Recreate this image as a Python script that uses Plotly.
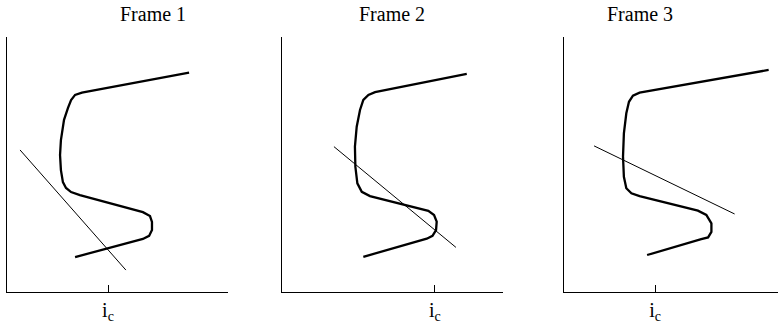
import plotly.graph_objects as go

# coordinates: each frame uses a 0-100 scale on both axes
titles = ["Frame 1", "Frame 2", "Frame 3"]
ic_pos = [45.7, 69.2, 41.2]

curve1_x = [82.4, 33.9, 30.8, 29.0, 27.6, 25.8, 24.4, 24.0, 24.4, 25.3, 26.7, 29.0, 33.0, 61.5, 64.7, 65.6, 65.6, 64.3, 61.5, 30.8]
curve1_y = [86.0, 78.2, 77.3, 75.3, 72.2, 67.5, 59.6, 53.7, 47.8, 43.1, 40.8, 39.2, 38.0, 31.3, 29.8, 27.5, 24.3, 22.0, 20.8, 13.7]
line1_x = [5.9, 53.8]
line1_y = [55.7, 8.6]

curve2_x = [83.6, 42.1, 39.1, 36.8, 35.3, 33.8, 33.0, 33.2, 34.1, 36.1, 39.8, 66.2, 68.8, 70.0, 69.7, 68.1, 65.5, 36.8]
curve2_y = [85.5, 78.4, 77.3, 75.3, 71.4, 64.8, 57.0, 49.1, 42.6, 39.3, 37.6, 31.8, 30.2, 27.6, 24.3, 22.0, 20.9, 13.8]
line2_x = [23.5, 78.7]
line2_y = [57.0, 17.5]

curve3_x = [92.6, 34.2, 31.2, 29.4, 28.2, 27.1, 26.7, 27.1, 28.2, 30.5, 34.2, 60.6, 64.4, 66.7, 66.7, 65.2, 62.1, 37.6]
curve3_y = [87.1, 78.2, 77.0, 74.6, 70.1, 62.2, 53.1, 45.2, 40.7, 38.7, 37.6, 31.9, 30.2, 26.9, 23.6, 21.4, 20.7, 14.5]
line3_x = [13.6, 77.2]
line3_y = [57.3, 30.6]

W, H = 778, 325
frames = [
    (curve1_x, curve1_y, line1_x, line1_y, 7),
    (curve2_x, curve2_y, line2_x, line2_y, 282),
    (curve3_x, curve3_y, line3_x, line3_y, 564),
]
px_per_unit = 2.21
panel_w = 221

fig = go.Figure()
font = "Liberation Serif, Times New Roman, serif"

for i, (cx, cy, lx, ly, left) in enumerate(frames):
    n = "" if i == 0 else str(i + 1)
    right = min(left + panel_w, W)
    xmax = (right - left) / px_per_unit
    fig.add_trace(go.Scatter(x=cx, y=cy, mode="lines", line=dict(color="black", width=2.3),
                             xaxis="x" + n, yaxis="y" + n, showlegend=False, hoverinfo="skip"))
    fig.add_trace(go.Scatter(x=lx, y=ly, mode="lines", line=dict(color="black", width=1),
                             xaxis="x" + n, yaxis="y" + n, showlegend=False, hoverinfo="skip"))
    fig.update_layout(**{
        "xaxis" + n: dict(domain=[left / W, right / W], range=[0, xmax], showline=True,
                          linecolor="black", linewidth=1.3, showgrid=False, zeroline=False,
                          tickvals=[ic_pos[i]], ticktext=["i<sub>c</sub>"], ticks="inside",
                          ticklen=7, tickwidth=1.3, tickcolor="black", anchor="y" + n,
                          tickfont=dict(family=font, size=20, color="black"), fixedrange=True),
        "yaxis" + n: dict(domain=[0, 1], range=[0, 100], showline=True, linecolor="black",
                          linewidth=1.3, showgrid=False, zeroline=False, showticklabels=False,
                          ticks="", anchor="x" + n, fixedrange=True),
    })
    fig.add_annotation(text=titles[i], x=(left + panel_w / 2) / W, y=1, xref="paper", yref="paper",
                       yanchor="bottom", yshift=10, showarrow=False,
                       font=dict(family=font, size=20, color="black"))

fig.update_layout(width=W, height=H, margin=dict(l=0, r=0, t=37, b=33),
                  plot_bgcolor="white", paper_bgcolor="white")

# page body has a default 8px margin, drop it so the figure sits at the window corner
fig.write_html("out.html", config={"displayModeBar": False},
               post_script="document.body.style.margin='0';")
